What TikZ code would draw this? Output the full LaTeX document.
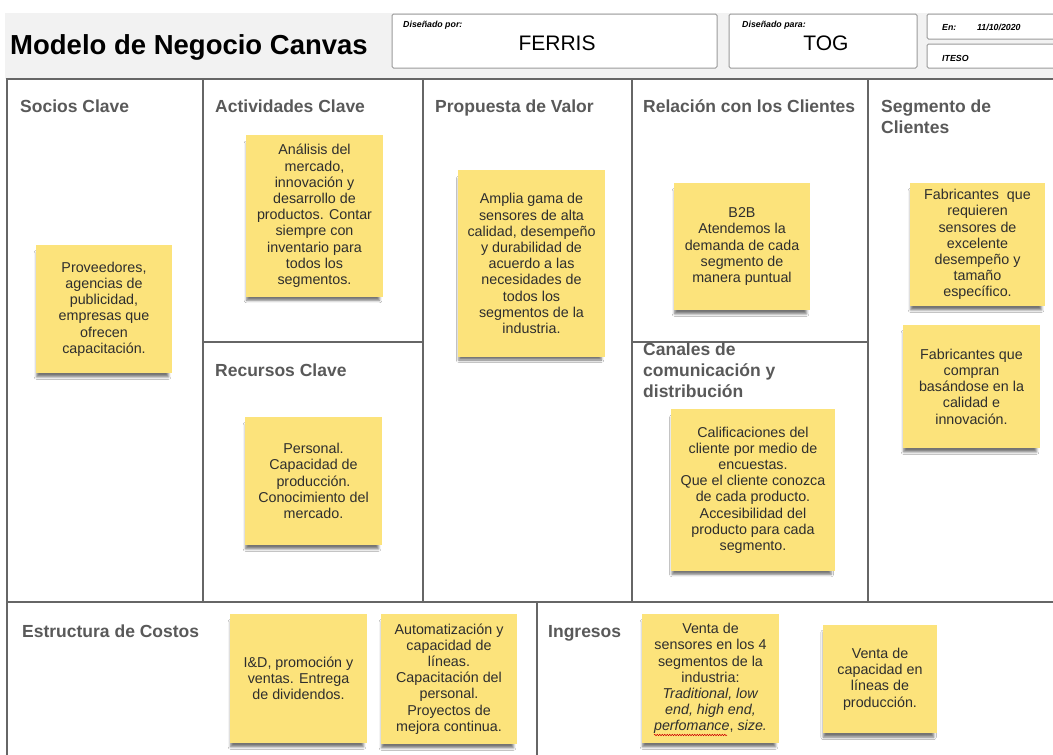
\documentclass[tikz,border=0pt]{standalone}
\usepackage{fontspec}
\setmainfont{Liberation Sans}
\usetikzlibrary{shadows.blur,decorations.pathmorphing}
\definecolor{linegray}{HTML}{666666}
\definecolor{titlegray}{HTML}{595959}
\definecolor{notefill}{HTML}{FCE37B}
\definecolor{notetext}{HTML}{2E2E2E}
\definecolor{band}{HTML}{F2F2F2}
\definecolor{boxline}{HTML}{9A9A9A}
\begin{document}
\begin{tikzpicture}[x=1pt,y=-1pt,
  gridline/.style={draw=linegray,line width=1.8pt},
  celltitle/.style={font=\fontsize{17.5}{21}\selectfont\bfseries, text=titlegray, anchor=base west, inner sep=0pt, align=left},
  sticky/.style={fill=notefill, text=notetext, font=\fontsize{14.3}{16.2}\selectfont, align=center, inner sep=0pt,
     blur shadow={shadow xshift=-1.5pt, shadow yshift=-6pt, shadow scale=0.97, shadow blur radius=2.5pt, shadow opacity=55}},
  infobox/.style={draw=boxline, line width=1pt, fill=white, rounded corners=1.5pt},
  smalllabel/.style={font=\fontsize{8.8}{10}\selectfont\bfseries\itshape, anchor=base west, inner sep=0pt},
  bigvalue/.style={font=\fontsize{21}{24}\selectfont, anchor=base, inner sep=0pt}
  ]
\useasboundingbox (0,0) rectangle (1053,755);
\fill[white] (0,0) rectangle (1053,755);
% header band
\fill[band] (5,13) rectangle (1053,79);
\node[font=\fontsize{27.5}{30}\selectfont\bfseries, anchor=base west, inner sep=0pt] (title) at (10,54) {Modelo de Negocio Canvas};
\draw[infobox] (392,14) rectangle (717,68);
\draw[infobox] (729,14) rectangle (917,68);
\draw[infobox] (927,14) rectangle (1060,39);
\draw[infobox] (927,44) rectangle (1060,68);
\node[smalllabel] (porlbl) at (403,27) {Diseñado por:};
\node[bigvalue] (por) at (557,50) {FERRIS};
\node[smalllabel] (paralbl) at (742,27) {Diseñado para:};
\node[bigvalue] (para) at (826,50) {TOG};
\node[smalllabel] (enlbl) at (942,30) {En:};
\node[smalllabel] (fecha) at (977,30) {11/10/2020};
\node[smalllabel] (iteso) at (942,61) {ITESO};
% grid
\draw[gridline] (7,755) -- (7,79) -- (1053,79);
\draw[gridline] (203,79) -- (203,602);
\draw[gridline] (423,79) -- (423,602);
\draw[gridline] (632,79) -- (632,602);
\draw[gridline] (868,79) -- (868,602);
\draw[gridline] (203,342) -- (423,342);
\draw[gridline] (632,342) -- (868,342);
\draw[gridline] (7,602) -- (1053,602);
\draw[gridline] (537,602) -- (537,755);
% cell titles (anchor base = baseline of last line)
\node[celltitle] (tsocios) at (20,112) {Socios Clave};
\node[celltitle] (tact) at (215,112) {Actividades Clave};
\node[celltitle] (tprop) at (435,112) {Propuesta de Valor};
\node[celltitle] (trel) at (643,112) {Relación con los Clientes};
\node[celltitle] (tseg) at (881,133) {Segmento de\\Clientes};
\node[celltitle] (trec) at (215,376) {Recursos Clave};
\node[celltitle] (tcan) at (643,397) {Canales de\\comunicación y\\distribución};
\node[celltitle] (tcost) at (22,637) {Estructura de Costos};
\node[celltitle] (ting) at (548,637) {Ingresos};
% sticky notes
\node[sticky, minimum width=136pt, minimum height=128pt] (soc) at (104,309) {Proveedores,\\agencias de\\publicidad,\\empresas que\\ofrecen\\capacitación.};
\node[sticky, minimum width=137pt, minimum height=162pt] (act) at (314.5,216) {Análisis del\\mercado,\\innovación y\\desarrollo de\\productos. Contar\\siempre con\\inventario para\\todos los\\segmentos.};
\node[sticky, minimum width=147pt, minimum height=187pt] (prop) at (531.5,263.5) {Amplia gama de\\sensores de alta\\calidad, desempeño\\y durabilidad de\\acuerdo a las\\necesidades de\\todos los\\segmentos de la\\industria.};
\node[sticky, minimum width=136pt, minimum height=127pt] (rel) at (742,246.5) {B2B\\Atendemos la\\demanda de cada\\segmento de\\manera puntual};
\node[sticky, minimum width=135pt, minimum height=123pt] (seg1) at (977.5,244.5) {Fabricantes\ \ que\\requieren\\sensores de\\excelente\\desempeño y\\tamaño\\específico.};
\node[sticky, minimum width=137pt, minimum height=123pt] (seg2) at (971.5,386.5) {Fabricantes que\\compran\\basándose en la\\calidad e\\innovación.};
\node[sticky, minimum width=137pt, minimum height=128pt] (rec) at (313.5,481) {Personal.\\Capacidad de\\producción.\\Conocimiento del\\mercado.};
\node[sticky, minimum width=164pt, minimum height=162pt] (can) at (753,490) {Calificaciones del\\cliente por medio de\\encuestas.\\Que el cliente conozca\\de cada producto.\\Accesibilidad del\\producto para cada\\segmento.};
\node[sticky, minimum width=137pt, minimum height=129pt] (cost1) at (298.5,678.5) {I\&D, promoción y\\ventas. Entrega\\de dividendos.};
\node[sticky, minimum width=136pt, minimum height=130pt] (cost2) at (449,679) {Automatización y\\capacidad de\\líneas.\\Capacitación del\\personal.\\Proyectos de\\mejora continua.};
\node[sticky, minimum width=137pt, minimum height=129pt] (ing1) at (710.5,678.5) {Venta de\\sensores en los 4\\segmentos de la\\industria:\\\textit{Traditional, low}\\\textit{end, high end,}\\\textit{perfomance}, \textit{size.}};
\node[sticky, minimum width=114pt, minimum height=108pt] (ing2) at (880,679) {Venta de\\capacidad en\\líneas de\\producción.};
% spell-check underline
\coordinate (wavyA) at (654,735);
\coordinate (wavyB) at (727,735);
\draw[red!80!black, line width=0.5pt, decorate, decoration={snake, amplitude=0.8pt, segment length=2.5pt}] (wavyA) -- (wavyB);
\end{tikzpicture}
\end{document}
